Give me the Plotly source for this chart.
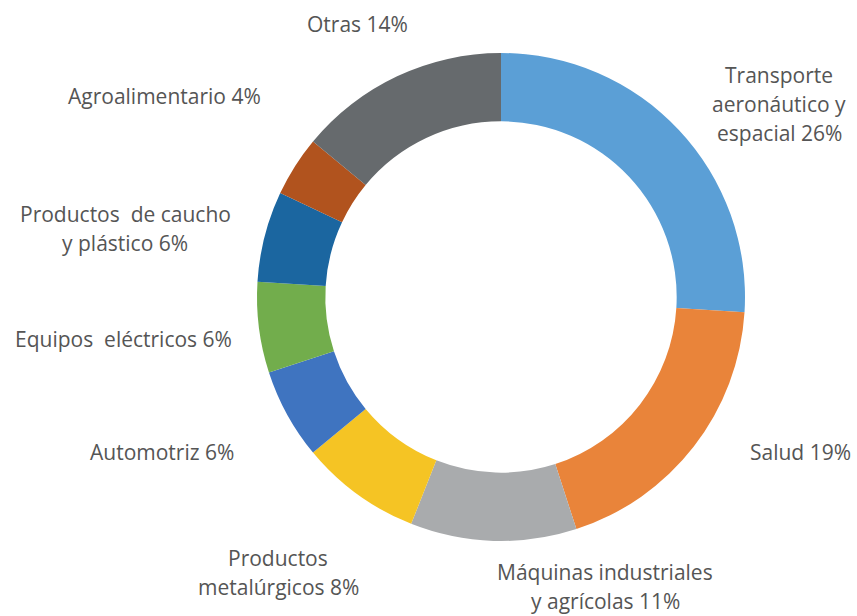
import plotly.graph_objects as go

W, H = 857, 616

# data
sectors = ["Transporte aeronáutico y espacial", "Salud", "Máquinas industriales y agrícolas",
           "Productos metalúrgicos", "Automotriz", "Equipos eléctricos",
           "Productos de caucho y plástico", "Agroalimentario", "Otras"]
shares = [26, 19, 11, 8, 6, 6, 6, 4, 14]
label_text = ["Transporte<br>aeronáutico y<br>espacial 26%", "Salud 19%",
              "Máquinas industriales<br>y agrícolas 11%", "Productos<br>metalúrgicos 8%",
              "Automotriz 6%", "Equipos  eléctricos 6%", "Productos  de caucho<br>y plástico 6%",
              "Agroalimentario 4%", "Otras 14%"]

colors = ["#5B9FD6", "#E9843A", "#A9ABAD", "#F5C424", "#3F74C0",
          "#72AD4C", "#1B66A0", "#B1531E", "#666A6D"]

# label block centres in pixels (x, y from top)
label_px = [(779, 104), (800, 452), (605, 586), (278, 572), (162, 452),
            (123, 339), (125, 228), (164, 96), (357, 24)]
line_gap = 29

cx, cy, r = 501, 297, 244

fig = go.Figure(go.Pie(
    labels=sectors, values=shares, sort=False, direction="clockwise", rotation=0,
    hole=0.72, marker=dict(colors=colors, line=dict(width=0)),
    textinfo="none", hoverinfo="label+percent", showlegend=False,
    domain=dict(x=[(cx - r) / W, (cx + r) / W], y=[(H - cy - r) / H, (H - cy + r) / H]),
))

for txt, (px, py) in zip(label_text, label_px):
    lines = txt.split("<br>")
    top = py - line_gap * (len(lines) - 1) / 2
    for i, line in enumerate(lines):
        ly = top + i * line_gap
        fig.add_annotation(x=px / W, y=1 - ly / H, xref="paper", yref="paper",
                           text=line, showarrow=False, xanchor="center", yanchor="middle",
                           font=dict(family="Open Sans", size=21, color="#555555"))

fig.update_layout(width=W, height=H, margin=dict(l=0, r=0, t=0, b=0),
                  paper_bgcolor="white", plot_bgcolor="white")

# drop the default 8px body margin so the figure fills the window exactly
fig.write_html("out.html", config={"displayModeBar": False},
               post_script="document.body.style.margin='0';")
